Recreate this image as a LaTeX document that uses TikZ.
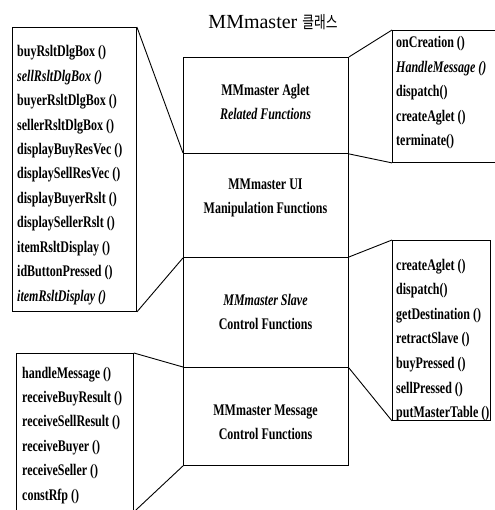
\documentclass[tikz,border=0pt]{standalone}
\usepackage{fontspec}
\setmainfont{Liberation Serif}[FakeStretch=0.74]
\newfontfamily\titlefont{Liberation Serif}
\newfontfamily\kr{Noto Sans CJK KR}[FakeStretch=0.75]
\begin{document}
\begin{tikzpicture}[x=1pt,y=-1pt,
  box/.style={draw, line width=0.9pt, inner sep=0pt, anchor=north west},
  item/.style={anchor=base west, inner sep=0pt, font=\fontsize{16.2}{18}\selectfont\bfseries},
  rowtext/.style={align=center, inner sep=0pt, font=\fontsize{16.2}{24}\selectfont\bfseries},
  link/.style={line width=0.9pt}]
\useasboundingbox (0,0) rectangle (494,510);
% title
\node[inner sep=0pt, font=\titlefont\fontsize{20}{24}\selectfont] (title) at (273,22) {MMmaster {\kr\fontsize{17}{18}\selectfont 클래스}};
% central column
\node[box, minimum width=165pt, minimum height=96pt] (r1) at (183,57) {};
\node[box, minimum width=165pt, minimum height=104pt] (r2) at (183,153) {};
\node[box, minimum width=165pt, minimum height=110pt] (r3) at (183,257) {};
\node[box, minimum width=165pt, minimum height=98pt] (r4) at (183,367) {};
\node[rowtext] (t1) at (265.5,102) {MMmaster Aglet\\\itshape Related Functions};
\node[rowtext] (t2) at (265.5,198) {MMmaster UI\\Manipulation Functions};
\node[rowtext] (t3) at (265.5,312) {\itshape MMmaster Slave\\Control Functions};
\node[rowtext] (t4) at (265.5,422) {MMmaster Message\\Control Functions};
% left top box
\node[box, minimum width=124pt, minimum height=284pt] (L1) at (12,27) {};
\foreach \t [count=\i] in {buyRsltDlgBox (), {\itshape sellRsltDlgBox ()}, buyerRsltDlgBox (), sellerRsltDlgBox (), displayBuyResVec (), displaySellResVec (), displayBuyerRslt (), displaySellerRslt (), itemRsltDisplay (), idButtonPressed (), {\itshape itemRsltDisplay ()}}
  \node[item] (a\i) at (17,{57+24.4*(\i-1)}) {\t};
% right top box
\node[box, minimum width=108pt, minimum height=132pt] (R1) at (392,30) {};
\foreach \t [count=\i] in {onCreation (), {\itshape HandleMessage ()}, dispatch(), createAglet (), terminate()}
  \node[item] (b\i) at (396,{48+24.4*(\i-1)}) {\t};
% right middle box
\node[box, minimum width=98pt, minimum height=180pt] (R2) at (392,240) {};
\foreach \t [count=\i] in {createAglet (), dispatch(), getDestination (), retractSlave (), buyPressed (), sellPressed (), putMasterTable ()}
  \node[item] (c\i) at (396,{270+24.6*(\i-1)}) {\t};
% left bottom box
\node[box, minimum width=117pt, minimum height=158pt] (L2) at (16,353) {};
\foreach \t [count=\i] in {handleMessage (), receiveBuyResult (), receiveSellResult (), receiveBuyer (), receiveSeller (), constRfp ()}
  \node[item] (d\i) at (22,{378+24.4*(\i-1)}) {\t};
% connectors
\draw[link] (L1.north east) -- (r2.north west);
\draw[link] (L1.south east) -- (r2.south west);
\draw[link] (R1.north west) -- (r1.north east);
\draw[link] (R1.south west) -- (r1.south east);
\draw[link] (R2.north west) -- (r3.north east);
\draw[link] (R2.south west) -- (r3.south east);
\draw[link] (L2.north east) -- (r4.north west);
\draw[link] (L2.south east) -- (r4.south west);
\end{tikzpicture}
\end{document}
